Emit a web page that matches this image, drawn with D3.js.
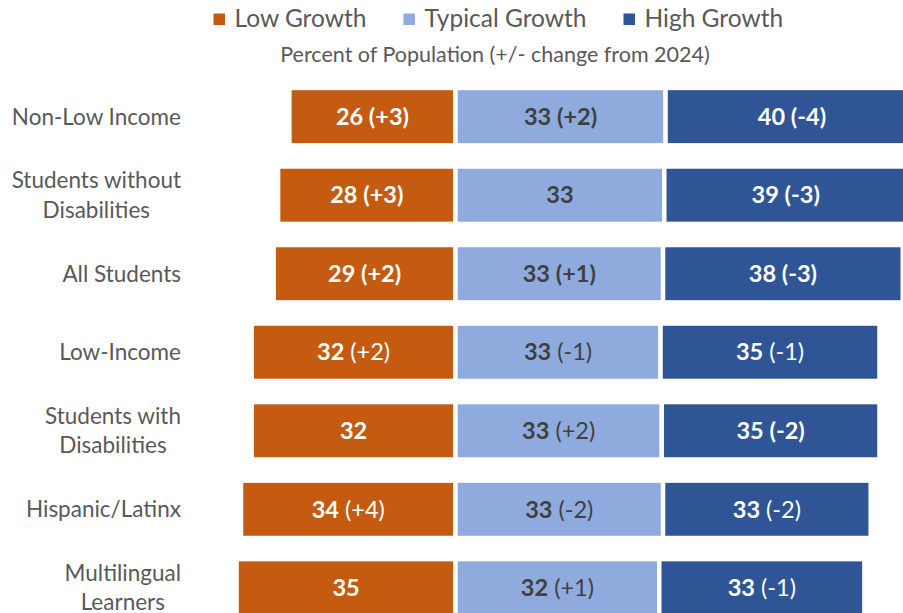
<!DOCTYPE html>
<html>
<head>
<meta charset="utf-8">
<script src="https://cdn.jsdelivr.net/npm/d3@7"></script>
<style>
  html, body { margin: 0; padding: 0; background: #ffffff; }
  svg { display: block; }
  text { font-family: Lato, "Noto Sans", sans-serif; }
</style>
</head>
<body>
<svg id="chart" width="903" height="613"></svg>
<script>
// ---------------- data ----------------
const categories = [
  "Non-Low Income",
  "Students without\nDisabilities",
  "All Students",
  "Low-Income",
  "Students with\nDisabilities",
  "Hispanic/Latinx",
  "Multilingual\nLearners"
];
const seriesNames = ["Low Growth", "Typical Growth", "High Growth"];

// percent of population
const lowPct     = [26.4, 28.2, 28.9, 32.4, 32.4, 34.1, 34.8];
const typicalPct = [33.4, 33.2, 33.0, 32.6, 32.8, 33.0, 32.4];
const highPct    = [40.2, 38.6, 38.1, 34.8, 34.6, 33.0, 32.6];

// change from 2024 (null = no change shown)
const lowChange     = [3, 3, 2, 2, null, 4, null];
const typicalChange = [2, null, 1, -1, 2, -2, 1];
const highChange    = [-4, -3, -3, -1, -2, -2, -1];

// whether the change is shown in bold
const lowChangeBold     = [true, true, true, false, false, false, false];
const typicalChangeBold = [true, false, true, false, false, false, false];
const highChangeBold    = [true, true, true, false, true, false, false];

const subtitle = "Percent of Population (+/- change from 2024)";

// ---------------- layout ----------------
const W = 903, H = 613;
const colors = ["#C55A11", "#8FAADC", "#2F5597"];
const labelColors = ["#FFFFFF", "#404040", "#FFFFFF"];
const axisTextColor = "#595959";

const svg = d3.select("#chart");

const centerX = 455.5;
const unit = 6.29;
const x = d3.scaleLinear()
  .domain([-100, 100])
  .range([centerX - 100 * unit, centerX + 100 * unit]);

const y = d3.scaleBand()
  .domain(categories)
  .range([77.4, 627.1])
  .paddingInner(0.27)
  .paddingOuter(0.135);

// build segment table
const rows = categories.map((c, i) => {
  const segs = [
    { s: 0, x0: -lowPct[i], x1: 0, v: lowPct[i], ch: lowChange[i], b: lowChangeBold[i] },
    { s: 1, x0: 0, x1: typicalPct[i], v: typicalPct[i], ch: typicalChange[i], b: typicalChangeBold[i] },
    { s: 2, x0: typicalPct[i], x1: typicalPct[i] + highPct[i], v: highPct[i], ch: highChange[i], b: highChangeBold[i] }
  ];
  return { cat: c, segs };
});

const g = svg.append("g");

const rowG = g.selectAll("g.row").data(rows).join("g")
  .attr("class", "row")
  .attr("transform", d => `translate(0,${y(d.cat)})`);

rowG.selectAll("rect").data(d => d.segs).join("rect")
  .attr("x", d => x(d.x0))
  .attr("width", d => x(d.x1) - x(d.x0))
  .attr("y", 0)
  .attr("height", y.bandwidth())
  .attr("fill", d => colors[d.s])
  .attr("stroke", "#ffffff")
  .attr("stroke-width", 4.4);

const fmtChange = v => (v > 0 ? "+" : "") + v;

const lbl = rowG.selectAll("text.val").data(d => d.segs).join("text")
  .attr("class", "val")
  .attr("x", d => (x(d.x0) + x(d.x1)) / 2)
  .attr("y", y.bandwidth() / 2)
  .attr("dy", "0.35em")
  .attr("text-anchor", "middle")
  .attr("fill", d => labelColors[d.s])
  .style("font-size", "23.5px");

lbl.append("tspan")
  .attr("font-weight", "bold")
  .text(d => Math.round(d.v));
lbl.filter(d => d.ch !== null).append("tspan")
  .attr("font-weight", d => d.b ? "bold" : "normal")
  .text(d => " (" + fmtChange(d.ch) + ")");

// category labels
const catRight = 181;
const catG = g.selectAll("g.cat").data(categories).join("g")
  .attr("class", "cat")
  .attr("transform", d => `translate(0,${y(d) + y.bandwidth() / 2})`);

catG.each(function(d) {
  const lines = d.split("\n");
  const lh = 29.5;
  const t = d3.select(this).append("text")
    .attr("fill", axisTextColor)
    .style("font-size", "22.5px")
    .attr("text-anchor", "middle");
  const spans = lines.map((ln, k) => t.append("tspan")
    .attr("x", 0)
    .attr("y", (k - (lines.length - 1) / 2) * lh)
    .attr("dy", "0.35em")
    .text(ln));
  const maxW = d3.max(spans, s => s.node().getComputedTextLength());
  spans.forEach(s => s.attr("x", catRight - maxW / 2));
});

// legend
const legendCenter = 498.3;
const legendG = svg.append("g");
const items = legendG.selectAll("g").data(seriesNames).join("g");
items.append("rect")
  .attr("width", 11.5).attr("height", 11.5)
  .attr("y", 13.5)
  .attr("fill", (d, i) => colors[i]);
items.append("text")
  .attr("x", 21)
  .attr("y", 27)
  .attr("fill", axisTextColor)
  .style("font-size", "24.5px")
  .text(d => d);
const gap = 37;
const widths = [];
items.each(function() { widths.push(this.getBBox().width); });
const total = d3.sum(widths) + gap * (widths.length - 1);
items.attr("transform", (d, i) => {
  const off = d3.sum(widths.slice(0, i)) + gap * i;
  return `translate(${legendCenter - total / 2 + off},0)`;
});

// subtitle
svg.append("text")
  .attr("x", 495)
  .attr("y", 62)
  .attr("text-anchor", "middle")
  .attr("fill", axisTextColor)
  .style("font-size", "21.5px")
  .text(subtitle);
</script>
</body>
</html>
